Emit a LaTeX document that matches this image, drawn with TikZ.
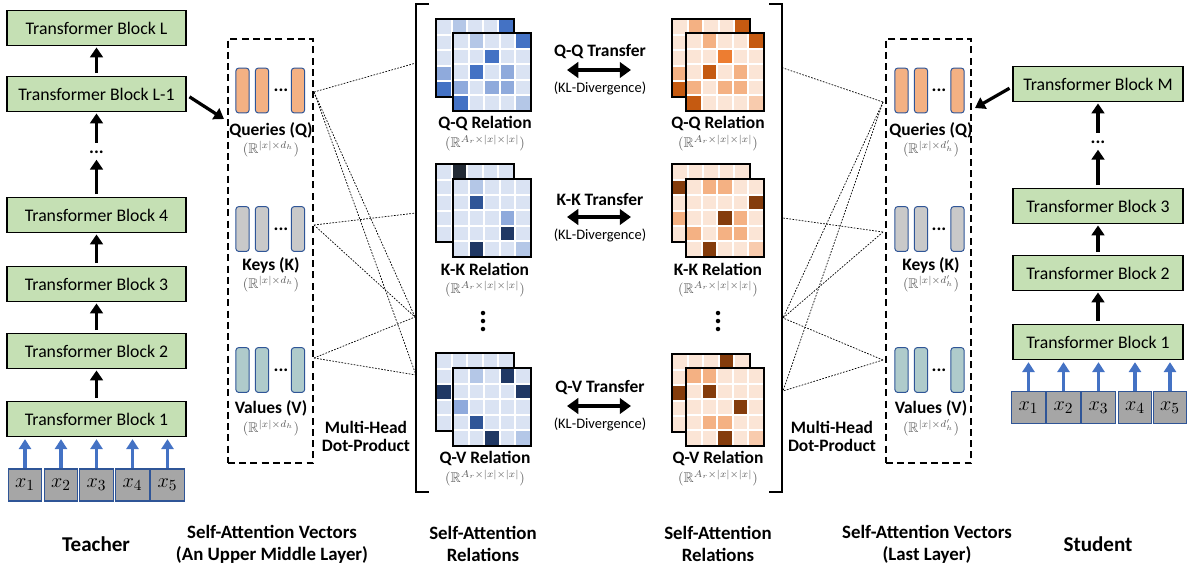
\documentclass[tikz,border=0pt]{standalone}
\usepackage{fontspec}
\usepackage{amssymb}
\setmainfont{Carlito}
\usetikzlibrary{arrows.meta}

\definecolor{blockgreen}{HTML}{C5E0B4}
\definecolor{edgeblue}{HTML}{2F5597}
\definecolor{arrowblue}{HTML}{4472C4}
\definecolor{tokgray}{HTML}{A6A6A6}
\definecolor{qfill}{HTML}{F4B183}
\definecolor{kfill}{HTML}{C9C9C9}
\definecolor{vfill}{HTML}{AFCBCB}
\definecolor{dimgray}{HTML}{595959}
% relation cells
\definecolor{bB}{HTML}{DAE3F3}
\definecolor{bL}{HTML}{B4C7E7}
\definecolor{bM}{HTML}{8FAADC}
\definecolor{bD}{HTML}{4472C4}
\definecolor{bN}{HTML}{2F5597}
\definecolor{bV}{HTML}{203864}
\definecolor{bK}{HTML}{222A35}
\definecolor{oB}{HTML}{FBE5D6}
\definecolor{oL}{HTML}{F8CBAD}
\definecolor{oM}{HTML}{F4B183}
\definecolor{oO}{HTML}{ED7D31}
\definecolor{oD}{HTML}{C55A11}
\definecolor{oK}{HTML}{843C0C}

% 5x5 relation grid: top-left x, top-left y, 25 cell colours
\newcommand\relgrid[3]{%
  \fill[white] (#1,#2) rectangle ++(78,78);
  \foreach \c [count=\k from 0] in {#3} {
    \pgfmathtruncatemacro\col{mod(\k,5)}
    \pgfmathtruncatemacro\row{div(\k,5)}
    \fill[\c] (#1+\col*15.6+1,#2+\row*15.6+1) rectangle ++(13.6,13.6);
  }
  \draw[line width=1.2pt] (#1,#2) rectangle ++(78,78);
}

\begin{document}
\begin{tikzpicture}[x=0.025cm, y=-0.025cm,
    block/.style={draw, line width=0.9pt, fill=blockgreen, inner sep=0pt, minimum height=0.87cm, font=\fontsize{12.6}{15}\selectfont},
    tok/.style={draw=edgeblue, line width=0.8pt, fill=tokgray, inner sep=0pt, minimum width=0.84cm, minimum height=0.8cm, font=\fontsize{15}{17}\selectfont},
    vec/.style={draw=edgeblue, line width=0.7pt, rounded corners=2pt, inner sep=0pt, minimum width=0.33cm, minimum height=1.12cm},
    vecbox/.style={draw, line width=1.1pt, dash pattern=on 5pt off 3pt, inner sep=0pt, minimum width=2.13cm, minimum height=10.6cm},
    up/.style={-{Triangle[length=7pt,width=9pt]}, line width=2.3pt, shorten <=2pt, shorten >=1pt},
    inp/.style={-{Triangle[length=7pt,width=8.5pt]}, line width=2.3pt, draw=arrowblue, shorten >=1.5pt},
    xfer/.style={{Triangle[length=8pt,width=11pt]}-{Triangle[length=8pt,width=11pt]}, line width=3pt},
    link/.style={line width=0.5pt, dash pattern=on 1.2pt off 1pt},
    lab/.style={font=\bfseries\fontsize{12.4}{14}\selectfont, inner sep=1pt},
    dim/.style={text=dimgray, font=\fontsize{10}{11}\selectfont, inner sep=1pt},
    footlab/.style={font=\bfseries\fontsize{13.4}{15.6}\selectfont, align=center},
    ellip/.style={font=\bfseries\fontsize{13}{14}\selectfont, inner sep=0pt}]
    \useasboundingbox (0,0) rectangle (1190,568);

    % Teacher
    \node[block, minimum width=4.475cm] (tL) at (96.5,28) {Transformer Block L};
    \node[block, minimum width=4.475cm] (tL1) at (96.5,94) {Transformer Block L-1};
    \node[ellip, minimum height=0.3cm] (tdots) at (96.5,152) {...};
    \node[block, minimum width=4.475cm] (t4) at (96.5,215) {Transformer Block 4};
    \node[block, minimum width=4.475cm] (t3) at (96.5,284) {Transformer Block 3};
    \node[block, minimum width=4.475cm] (t2) at (96.5,351) {Transformer Block 2};
    \node[block, minimum width=4.475cm] (t1) at (96.5,419) {Transformer Block 1};
    \foreach \i/\px in {1/25,2/61,3/96.5,4/132.5,5/167.5}
        \node[tok] (tx\i) at (\px,485) {$x_{\i}$};

    \draw[up] (t1) -- (t2);
    \draw[up] (t2) -- (t3);
    \draw[up] (t3) -- (t4);
    \draw[up] (t4) -- (tdots);
    \draw[up] (tdots) -- (tL1);
    \draw[up] (tL1) -- (tL);
    \foreach \i in {1,...,5}
        \draw[inp] (tx\i.north) -- (t1.south -| tx\i.north);

    % Student
    \node[block, minimum width=4.25cm] (sM) at (1098,84) {Transformer Block M};
    \node[ellip, minimum height=0.3cm] (sdots) at (1098,142) {...};
    \node[block, minimum width=4.25cm] (s3) at (1098,206) {Transformer Block 3};
    \node[block, minimum width=4.25cm] (s2) at (1098,273) {Transformer Block 2};
    \node[block, minimum width=4.25cm] (s1) at (1098,342) {Transformer Block 1};
    \foreach \i/\px in {1/1028.5,2/1063.5,3/1098.5,4/1135,5/1170}
        \node[tok] (sx\i) at (\px,407.5) {$x_{\i}$};

    \draw[up] (s1) -- (s2);
    \draw[up] (s2) -- (s3);
    \draw[up] (s3) -- (sdots);
    \draw[up] (sdots) -- (sM);
    \foreach \i in {1,...,5}
        \draw[inp] (sx\i.north) -- (s1.south -| sx\i.north);

    % Self-attention vectors, teacher side
    \node[vecbox] (tvec) at (270.5,251) {};
    \foreach \v/\py/\fc in {q/90.5/qfill,k/229/kfill,v/370/vfill} {
        \node[vec, fill=\fc] (t\v1) at (242.5,\py) {};
        \node[vec, fill=\fc] (t\v2) at (262,\py) {};
        \node[ellip] (t\v d) at (281,\py) {...};
        \node[vec, fill=\fc] (t\v3) at (298,\py) {};
    }
    \node[lab] (tqlab) at (271,130) {Queries (Q)};
    \node[dim] (tqdim) at (271,149) {$(\mathbb{R}^{|x|\times d_h})$};
    \node[lab] (tklab) at (271,265) {Keys (K)};
    \node[dim] (tkdim) at (271,284) {$(\mathbb{R}^{|x|\times d_h})$};
    \node[lab] (tvlab) at (271,408) {Values (V)};
    \node[dim] (tvdim) at (271,428) {$(\mathbb{R}^{|x|\times d_h})$};
    \coordinate (tvin) at (224,119);
    \draw[up, shorten <=0pt, shorten >=0pt] ([xshift=2pt,yshift=-2pt]tL1.east) -- (tvin);

    % Self-attention vectors, student side
    \node[vecbox] (svec) at (928.5,251) {};
    \foreach \v/\py/\fc in {q/90.5/qfill,k/229/kfill,v/370/vfill} {
        \node[vec, fill=\fc] (s\v1) at (901.5,\py) {};
        \node[vec, fill=\fc] (s\v2) at (921,\py) {};
        \node[ellip] (s\v d) at (939,\py) {...};
        \node[vec, fill=\fc] (s\v3) at (957.5,\py) {};
    }
    \node[lab] (sqlab) at (931,130) {Queries (Q)};
    \node[dim] (sqdim) at (931,149) {$(\mathbb{R}^{|x|\times d'_h})$};
    \node[lab] (sklab) at (931,265) {Keys (K)};
    \node[dim] (skdim) at (931,284) {$(\mathbb{R}^{|x|\times d'_h})$};
    \node[lab] (svlab) at (931,408) {Values (V)};
    \node[dim] (svdim) at (931,428) {$(\mathbb{R}^{|x|\times d'_h})$};
    \coordinate (svin) at (975,108);
    \draw[up, shorten <=0pt, shorten >=0pt] ([xshift=-2pt,yshift=-3pt]sM.west) -- (svin);

    % Brackets round the relations
    \draw[line width=1.2pt] (429,4) -- (416,4) -- (416,492) -- (429,492);
    \draw[line width=1.2pt] (769,4) -- (782,4) -- (782,492) -- (769,492);

    % Relations
    \relgrid{436}{19}{bB,bL,bB,bB,bD, bB,bB,bB,bB,bB, bB,bB,bB,bB,bB, bM,bB,bB,bB,bB, bD,bB,bB,bB,bB}
    \relgrid{453}{33}{bB,bL,bB,bB,bD, bB,bB,bD,bB,bB, bB,bD,bB,bM,bB, bM,bB,bM,bM,bB, bD,bB,bB,bB,bL}
    \relgrid{436}{164}{bB,bK,bB,bB,bB, bB,bB,bB,bB,bB, bB,bB,bB,bB,bB, bB,bB,bB,bB,bB, bB,bB,bB,bB,bB}
    \relgrid{453}{179}{bB,bL,bB,bB,bB, bB,bN,bB,bB,bB, bB,bB,bB,bM,bB, bB,bB,bB,bV,bB, bB,bV,bB,bB,bL}
    \relgrid{436}{353}{bB,bB,bB,bB,bB, bB,bB,bB,bB,bB, bV,bB,bB,bB,bB, bB,bB,bB,bB,bB, bB,bB,bB,bB,bB}
    \relgrid{453}{368}{bB,bL,bB,bV,bB, bB,bB,bB,bB,bV, bM,bB,bB,bB,bB, bB,bN,bB,bB,bB, bB,bB,bV,bB,bL}

    \relgrid{672}{19}{oB,oM,oB,oB,oD, oB,oB,oB,oB,oB, oB,oB,oB,oB,oB, oM,oB,oB,oB,oB, oD,oB,oB,oB,oB}
    \relgrid{686}{33}{oB,oM,oB,oB,oD, oB,oB,oO,oB,oB, oB,oD,oB,oM,oB, oM,oB,oM,oM,oB, oD,oB,oB,oB,oL}
    \relgrid{672}{164}{oB,oB,oB,oB,oB, oK,oB,oB,oB,oB, oB,oB,oB,oB,oB, oM,oB,oB,oB,oB, oB,oB,oB,oB,oB}
    \relgrid{686}{179}{oB,oM,oM,oB,oB, oB,oB,oB,oB,oK, oB,oB,oK,oM,oB, oM,oB,oM,oM,oB, oB,oK,oB,oB,oL}
    \relgrid{672}{354}{oB,oB,oB,oK,oB, oB,oB,oB,oB,oB, oK,oB,oB,oB,oB, oB,oB,oB,oB,oB, oB,oB,oB,oB,oB}
    \relgrid{686}{368}{oM,oM,oB,oB,oB, oB,oK,oB,oB,oB, oB,oB,oB,oK,oB, oB,oM,oM,oB,oB, oB,oB,oK,oB,oL}

    \node[lab] (tqqlab) at (485,123) {Q-Q Relation};
    \node[dim] (tqqdim) at (485,143) {$(\mathbb{R}^{A_r\times|x|\times|x|})$};
    \node[lab] (tkklab) at (485,269) {K-K Relation};
    \node[dim] (tkkdim) at (485,289) {$(\mathbb{R}^{A_r\times|x|\times|x|})$};
    \node[lab] (tqvlab) at (485,458) {Q-V Relation};
    \node[dim] (tqvdim) at (485,478) {$(\mathbb{R}^{A_r\times|x|\times|x|})$};
    \node[lab] (sqqlab) at (718,123) {Q-Q Relation};
    \node[dim] (sqqdim) at (718,143) {$(\mathbb{R}^{A_r\times|x|\times|x|})$};
    \node[lab] (skklab) at (718,269) {K-K Relation};
    \node[dim] (skkdim) at (718,289) {$(\mathbb{R}^{A_r\times|x|\times|x|})$};
    \node[lab] (sqvlab) at (718,458) {Q-V Relation};
    \node[dim] (sqvdim) at (718,478) {$(\mathbb{R}^{A_r\times|x|\times|x|})$};
    \foreach \px in {483,718}
        \foreach \py in {313,321,329}
            \fill (\px,\py) circle (1.6pt);

    % Transfers
    \foreach \r/\txt/\py in {qq/Q-Q/52,kk/K-K/199,qv/Q-V/388} {
        \node[lab] (\r head) at (600,\py) {\txt{} Transfer};
        \coordinate (\r a) at (567,\py+18);
        \coordinate (\r b) at (631,\py+18);
        \draw[xfer] (\r a) -- (\r b);
        \node[font=\fontsize{10.3}{12}\selectfont] (\r kl) at (600,\py+36) {(KL-Divergence)};
    }

    % Multi-head dot-product links
    \coordinate (tq) at (314,92);
    \coordinate (tk) at (314,225);
    \coordinate (tv) at (314,358);
    \coordinate (b1) at (416,63);
    \coordinate (b2) at (416,213);
    \coordinate (b3) at (415,317);
    \coordinate (b4) at (416,375);
    \foreach \a/\b in {tq/b1,tq/b3,tq/b4,tk/b2,tk/b3,tv/b3,tv/b4}
        \draw[link] (\a) -- (\b);
    \coordinate (sq) at (883,102);
    \coordinate (sk) at (883,232);
    \coordinate (sv) at (883,360);
    \coordinate (c1) at (783,68);
    \coordinate (c2) at (783,218);
    \coordinate (c3) at (783,318);
    \coordinate (c4) at (783,391);
    \foreach \a/\b in {sq/c1,sq/c3,sq/c4,sk/c2,sk/c3,sv/c3,sv/c4}
        \draw[link] (\a) -- (\b);
    \node[lab, align=center] (tmh) at (366,436.5) {Multi-Head\\[-1pt]Dot-Product};
    \node[lab, align=center] (smh) at (832,436.5) {Multi-Head\\[-1pt]Dot-Product};

    % Captions
    \node[footlab, font=\bfseries\fontsize{15}{18}\selectfont] (tcap) at (96,544) {Teacher};
    \node[footlab] (tveccap) at (272,544) {Self-Attention Vectors\\(An Upper Middle Layer)};
    \node[footlab] (trelcap) at (483,544) {Self-Attention\\Relations};
    \node[footlab] (srelcap) at (718,544) {Self-Attention\\Relations};
    \node[footlab] (sveccap) at (927,544) {Self-Attention Vectors\\(Last Layer)};
    \node[footlab, font=\bfseries\fontsize{15}{18}\selectfont] (scap) at (1098,544) {Student};
\end{tikzpicture}
\end{document}
